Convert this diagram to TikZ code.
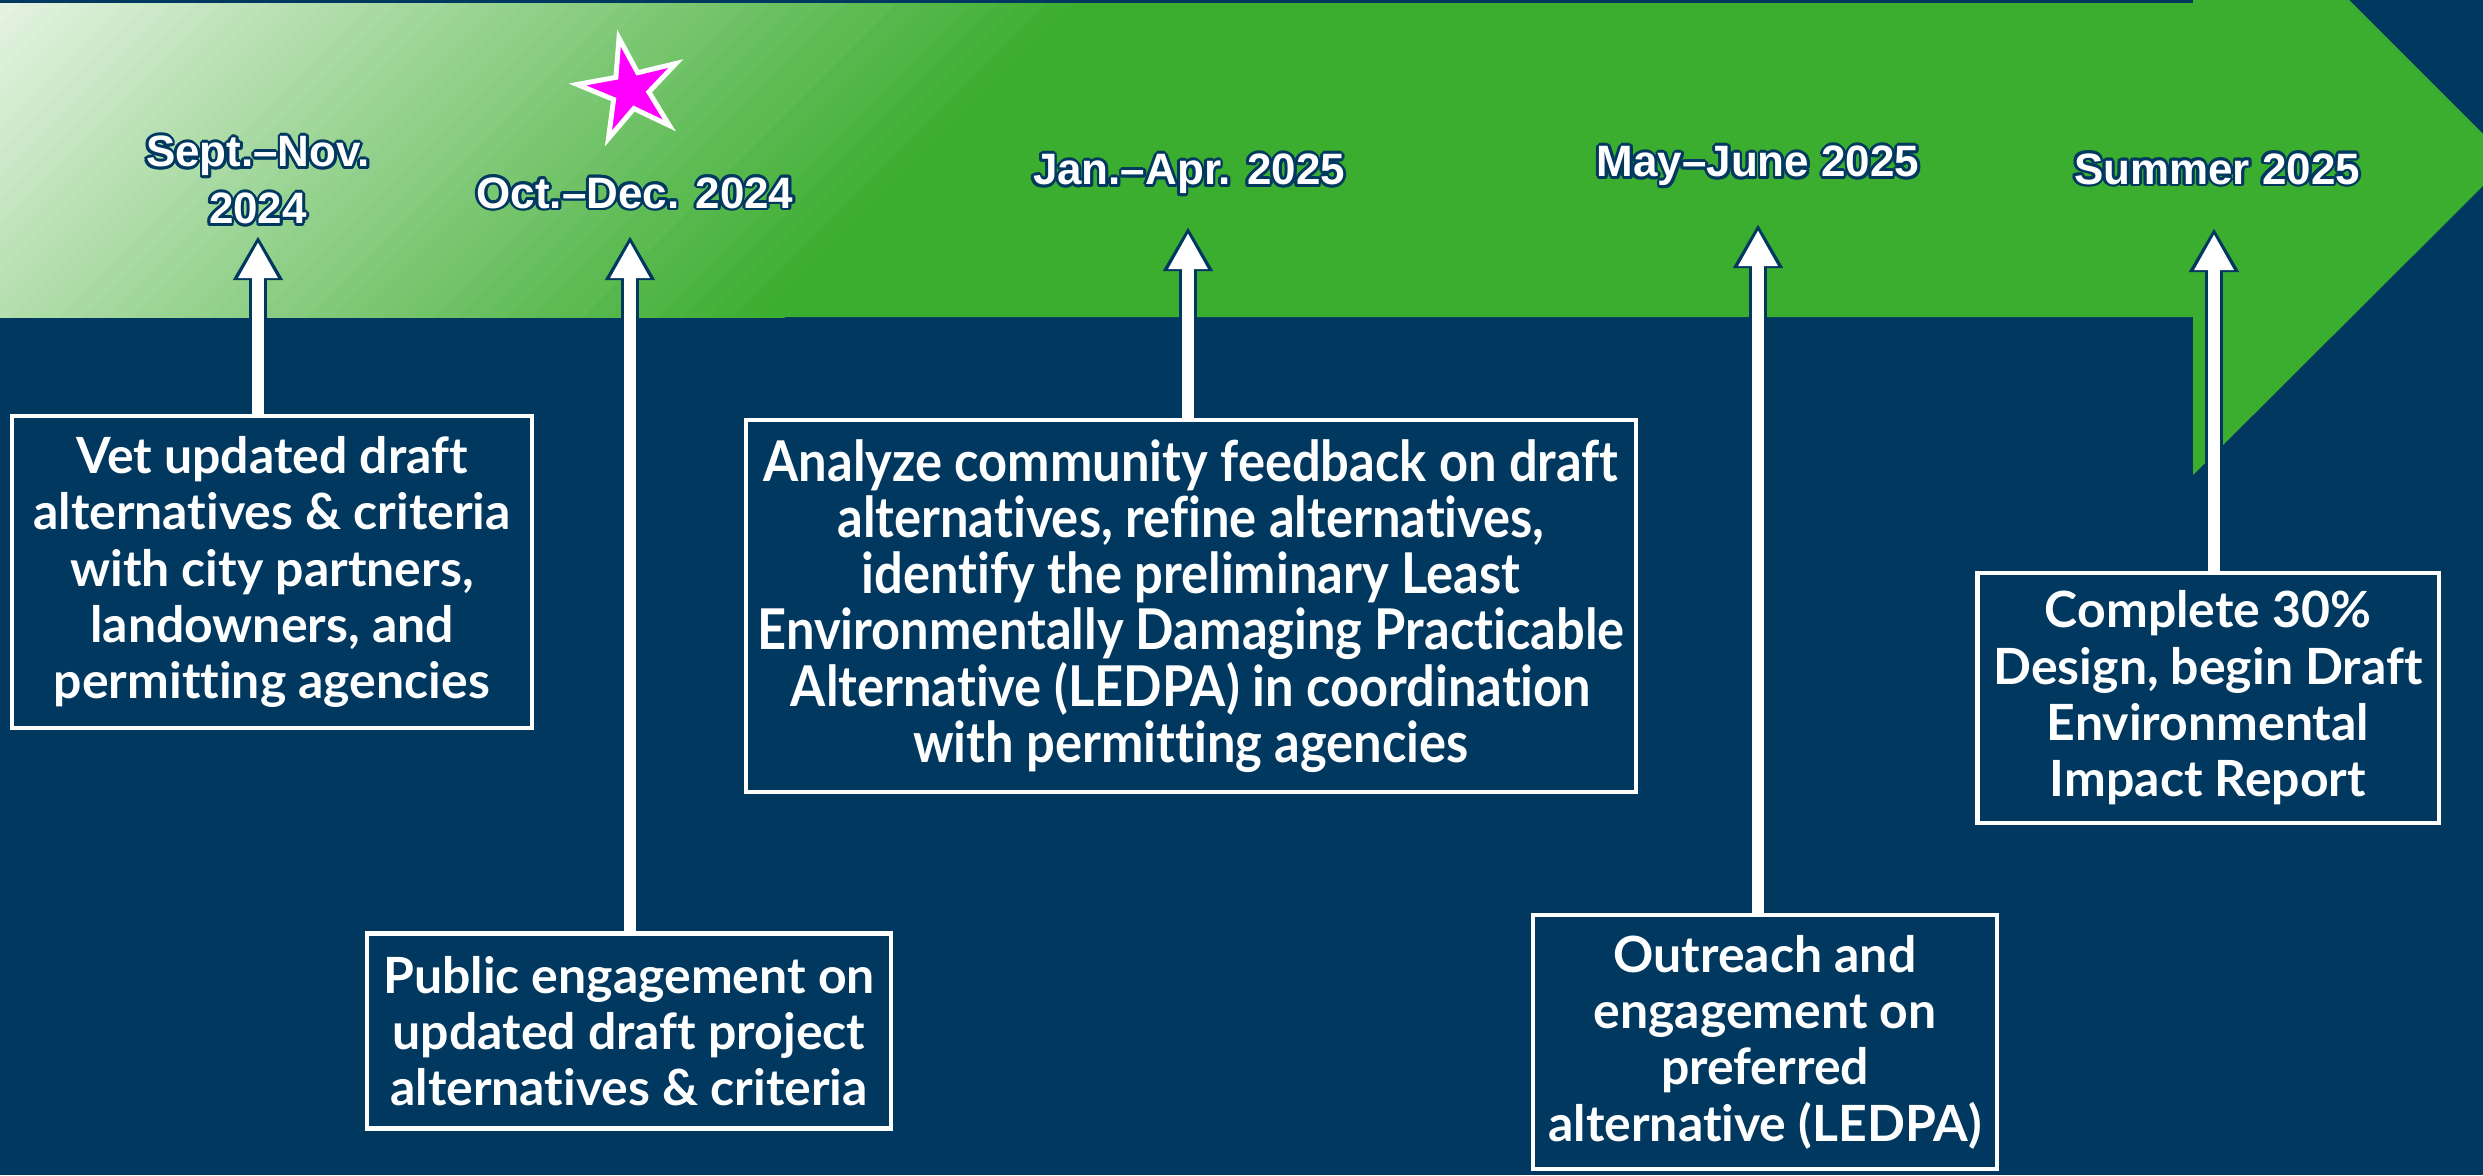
\documentclass[tikz,border=0pt]{standalone}
\usepackage{fontspec}
\setmainfont{Lato}[Ligatures=NoCommon]
\newfontfamily\datefont{Liberation Sans}
\newfontfamily\narrowfont{Lato}[FakeStretch=0.9, Ligatures=NoCommon]
\usetikzlibrary{arrows.meta,shapes.geometric,positioning}

\definecolor{navybg}{HTML}{003860}
\definecolor{bandgreen}{HTML}{3BAD2F}
\definecolor{bandpale}{HTML}{E4F2E1}
\definecolor{starmag}{RGB}{255,0,255}

\tikzset{
  datelbl/.style={font=\datefont\bfseries\fontsize{12.5}{16.2}\selectfont, text=white, align=center, inner sep=0pt},
  taskbox/.style={draw=white, line width=1.2pt, fill=navybg, text=white, align=center, inner sep=0pt,
                  font=\bfseries\fontsize{14.2}{16}\selectfont},
  uparrow/.style={white, line width=0.12cm, -{Triangle[width=0.37cm,length=0.36cm]}},
  upglow/.style={navybg, line width=0.18cm, shorten <=0.06cm, shorten >=-0.06cm,
                 -{Triangle[width=0.47cm,length=0.44cm]}},
}

% date label with a dark halo
\newcommand{\datelabel}[3]{%
  \foreach \a in {0,30,...,330}
    \node[datelbl, text=navybg] at ([shift={(\a:0.028cm)}]#2) {#3};
  \node[datelbl] (#1) at (#2) {#3};
}

\begin{document}
\begin{tikzpicture}[x=0.01cm, y=-0.01cm]
    \useasboundingbox (0,0) rectangle (2483,1175);
    \clip (0,0) rectangle (2483,1175);

    % Background and band
    \fill[navybg] (0,0) rectangle (2483,1175);
    \fill[bandgreen] (0,3) -- (2193,3) -- (2193,-156) -- (2509,160)
        -- (2193,475) -- (2193,317) -- (0,317) -- cycle;
    \begin{scope}
      \clip (0,3) rectangle (1300,317);
      \foreach \i in {0,...,43} {
        \pgfmathsetmacro{\p}{100*\i/43}
        \fill[bandgreen!\p!bandpale] (25*\i,0) -- (25*\i+27,0) -- (25*\i-293,320) -- (25*\i-320,320) -- cycle;
      }
    \end{scope}

    % Define nodes
    \node[taskbox, minimum width=5.19cm, minimum height=3.12cm] (vet) at (272,572)
        {Vet updated draft\\alternatives \& criteria\\with city partners,\\landowners, and\\permitting agencies};
    \node[taskbox, minimum width=5.24cm, minimum height=1.95cm] (pub) at (629,1031)
        {Public engagement on\\updated draft project\\alternatives \& criteria};
    \node[taskbox, font=\narrowfont\bfseries\fontsize{16}{16}\selectfont,
          minimum width=8.90cm, minimum height=3.72cm] (ledpa) at (1191,606)
        {Analyze community feedback on draft\\alternatives, refine alternatives,\\identify the preliminary Least\\Environmentally Damaging Practicable\\Alternative (LEDPA) in coordination\\with permitting agencies};
    \node[taskbox, minimum width=4.64cm, minimum height=2.54cm] (outr) at (1765,1042)
        {Outreach and\\engagement on\\preferred\\alternative (LEDPA)};
    \node[taskbox, minimum width=4.61cm, minimum height=2.50cm] (comp) at (2208,698)
        {Complete 30\%\\Design, begin Draft\\Environmental\\Impact Report};

    \coordinate (t1) at (258,242);
    \coordinate (t2) at (630,242);
    \coordinate (t3) at (1188,233);
    \coordinate (t4) at (1758,230);
    \coordinate (t5) at (2214,234);

    \datelabel{d1}{258,180}{Sept.–Nov.\\2024}
    \datelabel{d2}{635,193}{Oct.–Dec. 2024}
    \datelabel{d3}{1189,174}{Jan.–Apr. 2025}
    \datelabel{d4}{1758,166}{May–June 2025}
    \datelabel{d5}{2217,169}{Summer 2025}

    \node[star, star points=5, star point ratio=2.8, minimum size=1.06cm, inner sep=0pt,
          fill=starmag, draw=white, line width=1.4pt, shape border rotate=12] (hl) at (630,90) {};

    % Connect the nodes
    \foreach \b/\t in {vet/t1, pub/t2, ledpa/t3, outr/t4, comp/t5} {
      \draw[upglow] (\t |- \b.north) -- (\t);
      \draw[uparrow] (\t |- \b.north) -- (\t);
    }

\end{tikzpicture}
\end{document}
